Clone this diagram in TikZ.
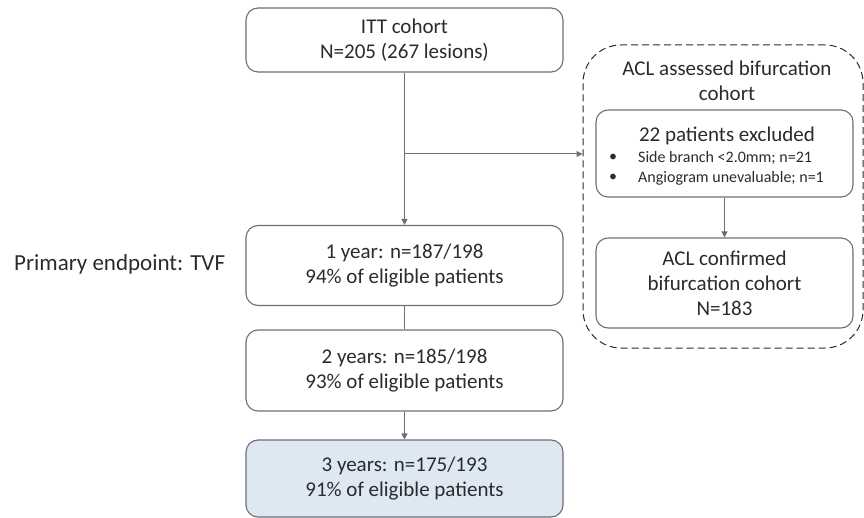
\documentclass[tikz,border=0pt]{standalone}
\usepackage{fontspec}
\setmainfont{Carlito}
\usetikzlibrary{arrows.meta}
\definecolor{edge}{HTML}{6E6E6E}
\definecolor{ink}{HTML}{2B2B2B}
\definecolor{paleblue}{HTML}{DEE8F3}
\tikzset{
  box/.style={draw=edge, line width=1.1pt, rounded corners=12pt, minimum width=317pt, text=ink, align=center, font=\fontsize{21}{25.5}\selectfont, inner sep=0pt},
  sidebox/.style={draw=edge, line width=1.1pt, rounded corners=12pt, minimum width=257pt, text=ink, align=center, inner sep=0pt},
  conn/.style={draw=edge, line width=1pt},
  arr/.style={conn, -{Triangle[length=6pt,width=6pt]}},
  lbl/.style={text=ink, inner sep=0pt}
}
\begin{document}
\begin{tikzpicture}[x=1pt,y=-1pt]
\useasboundingbox (0,0) rectangle (864,518);
% main column
\node[box, minimum height=64pt] (itt) at (404.5,40) {ITT cohort\\N=205 (267 lesions)};
\node[box, minimum height=80pt] (y1) at (404.5,265.5) {1 year: n=187/198\\94\% of eligible patients};
\node[box, minimum height=81pt] (y2) at (404.5,370.5) {2 years: n=185/198\\93\% of eligible patients};
\node[box, minimum height=77pt, fill=paleblue] (y3) at (404.5,478.5) {3 years: n=175/193\\91\% of eligible patients};
\node[lbl, font=\fontsize{23}{27}\selectfont, anchor=west] (pe) at (14,264) {Primary endpoint: TVF};
% dashed group
\node[draw=ink, line width=1pt, dash pattern=on 7pt off 4pt, rounded corners=38pt, minimum width=280pt, minimum height=303pt, inner sep=0pt] (grp) at (723,196.5) {};
\node[lbl, align=center, font=\fontsize{21}{25.5}\selectfont] (grpt) at (727,81) {ACL assessed bifurcation\\cohort};
\node[sidebox, minimum height=87pt] (excl) at (724.5,153.5) {};
\node[lbl, font=\fontsize{21}{25}\selectfont] (exclt) at (727,136) {22 patients excluded};
\node[lbl, font=\fontsize{16}{18}\selectfont] (b1) at (613,158) {\textbullet};
\node[lbl, font=\fontsize{16}{18}\selectfont, anchor=west] (t1) at (638,158) {Side branch <2.0mm; n=21};
\node[lbl, font=\fontsize{16}{18}\selectfont] (b2) at (613,178) {\textbullet};
\node[lbl, font=\fontsize{16}{18}\selectfont, anchor=west] (t2) at (638,178) {Angiogram unevaluable; n=1};
\node[sidebox, minimum height=90pt, font=\fontsize{21}{25}\selectfont] (conf) at (724.5,283) {ACL confirmed\\bifurcation cohort\\N=183};
% connectors
\coordinate (br) at (404.5,154);
\draw[arr] (itt) -- (y1);
\draw[arr] (br) -- (br -| grp.west);
\draw[conn] (y1) -- (y2);
\draw[arr] (y2) -- (y3);
\draw[arr] (excl) -- (conf);
\end{tikzpicture}
\end{document}
